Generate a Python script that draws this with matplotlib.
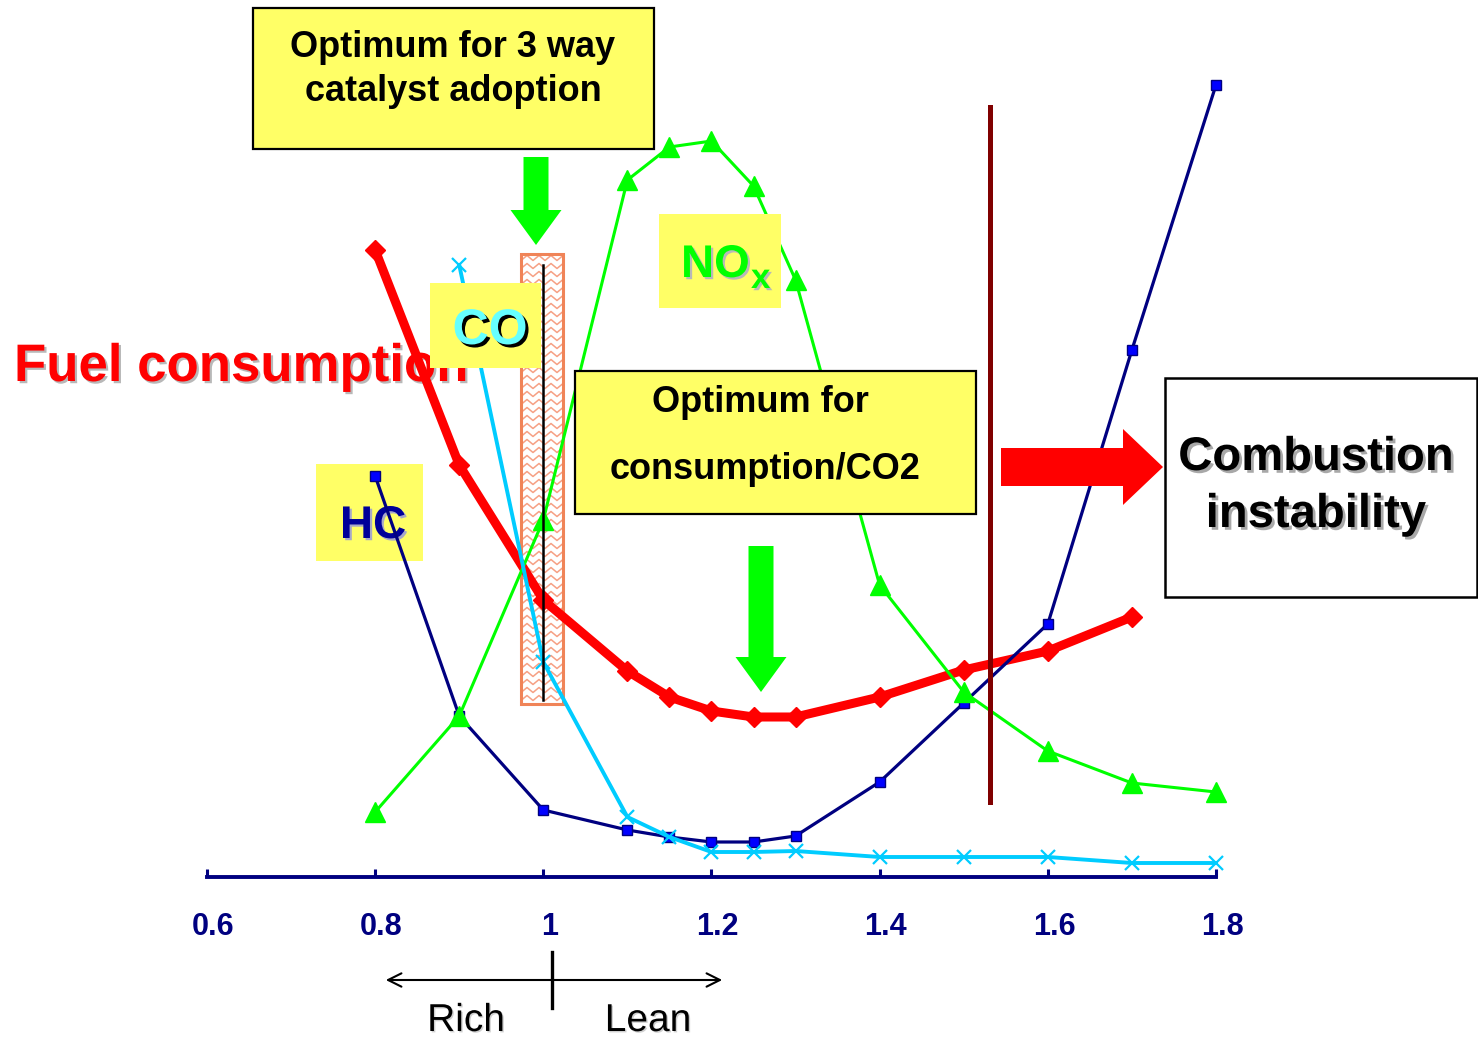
import numpy as np
import matplotlib.pyplot as plt
from matplotlib.patches import Rectangle, FancyArrow
from matplotlib import patheffects as pe
from matplotlib.transforms import ScaledTranslation

plt.rcParams['font.family'] = ['Liberation Sans', 'DejaVu Sans']

# excess air ratio (lambda) and relative levels of each quantity
lam = [0.8, 0.9, 1.0, 1.1, 1.15, 1.2, 1.25, 1.3, 1.4, 1.5, 1.6, 1.7, 1.8]
lam_fuel = [0.8, 0.9, 1.0, 1.1, 1.15, 1.2, 1.25, 1.3, 1.4, 1.5, 1.6, 1.7]
lam_co = [0.9, 1.0, 1.1, 1.15, 1.2, 1.25, 1.3, 1.4, 1.5, 1.6, 1.7, 1.8]
fuel = [6.27, 4.12, 2.77, 2.06, 1.80, 1.66, 1.60, 1.60, 1.80, 2.07, 2.26, 2.60]
hc = [4.01, 1.61, 0.67, 0.47, 0.40, 0.35, 0.35, 0.41, 0.95, 1.74, 2.53, 5.27, 7.92]
co = [6.12, 2.15, 0.60, 0.40, 0.25, 0.25, 0.26, 0.20, 0.20, 0.20, 0.14, 0.14]
nox = [0.65, 1.61, 3.57, 6.97, 7.30, 7.36, 6.91, 5.97, 2.92, 1.85, 1.26, 0.94, 0.85]
tick_vals = [0.6, 0.8, 1.0, 1.2, 1.4, 1.6, 1.8]
tick_labels = ['0.6', '0.8', '1', '1.2', '1.4', '1.6', '1.8']

W, H = 1478, 1042
fig = plt.figure(figsize=(W / 100, H / 100), dpi=100)
ax = fig.add_axes([0, 0, 1, 1])
X0, XS = 207, 840.8   # pixel column of lambda=0.6, pixels per lambda unit
Y0, YS = 877, 100.0   # pixel row of the baseline, pixels per unit
ax.set_xlim(0.6 - X0 / XS, 0.6 + (W - X0) / XS)
ax.set_ylim((Y0 - H) / YS, Y0 / YS)


def dx(px):
    return 0.6 + (np.asarray(px, dtype=float) - X0) / XS


def dy(py):
    return (Y0 - np.asarray(py, dtype=float)) / YS


def shadow(col='#b8b8b8', off=1.6):
    return [pe.SimplePatchShadow(offset=(off, -off), shadow_rgbFace=col, alpha=1.0), pe.Normal()]


def box(x0, y0, x1, y1, face, edge='none', lw=1.6, z=7):
    r = Rectangle((dx(x0), dy(y1)), dx(x1) - dx(x0), dy(y0) - dy(y1),
                  facecolor=face, edgecolor=edge, lw=lw, zorder=z)
    ax.add_patch(r)
    return r


# bottom axis only
for s in ['left', 'right', 'top']:
    ax.spines[s].set_visible(False)
ax.spines['bottom'].set_position(('data', 0))
ax.spines['bottom'].set_bounds(0.6, 1.8)
ax.spines['bottom'].set_color('#000080')
ax.spines['bottom'].set_linewidth(2.8)
ax.set_yticks([])
ax.set_xticks(tick_vals)
ax.set_xticklabels(tick_labels, fontsize=22, fontweight='bold', color='#000080')
ax.tick_params(axis='x', direction='in', length=6, width=2.2, color='#000080', pad=25.5)
for lbl in ax.get_xticklabels():
    lbl.set_transform(lbl.get_transform() + ScaledTranslation(4.5 / 72, 0, fig.dpi_scale_trans))

# lines
ax.plot(lam_fuel, fuel, color='#FF0000', lw=6.5, marker='D', ms=10, zorder=2)
ax.plot(lam, hc, color='#000080', lw=2.3, marker='s', ms=7, mfc='#0000FF', mec='#000080', mew=1, zorder=3)
ax.plot(lam, nox, color='#00FF00', lw=2.2, marker='^', ms=14, zorder=4)
ax.plot(lam_co, co, color='#00CCFF', lw=2.8, marker='x', ms=10, mew=1.6, zorder=5)

# text under the curves
ax.text(dx(14), dy(381), 'Fuel consumption', fontsize=38, fontweight='bold', color='#FF0000',
        ha='left', va='baseline', zorder=1, path_effects=shadow())
box(316, 464, 423, 561, '#FFFF66', z=1)
ax.text(dx(373), dy(538), 'HC', fontsize=33, fontweight='bold', color='#000099',
        ha='center', va='baseline', zorder=1.2, path_effects=shadow('#a8a8c8'))

# hatched band around stoichiometric
band = box(521, 254, 563, 704, 'white', z=1.5)
zx = np.arange(515, 572, 6.0)
for row in np.arange(258, 704, 8.0):
    zy = row + np.where(np.arange(len(zx)) % 2 == 0, -2.5, 2.5)
    ln, = ax.plot(dx(zx), dy(zy), color='#F6A084', lw=1.1, zorder=1.6)
    ln.set_clip_path(band)
box(521, 254, 563, 704, 'none', edge='#F08458', lw=2.2, z=1.7)
ax.plot([1.0, 1.0], [dy(265), dy(700)], color='black', lw=1.8, zorder=6)

# combustion limit
ax.plot([dx(990), dx(990)], [dy(107), dy(802)], color='#800000', lw=3.6, zorder=6)

# labels on top
box(253, 8, 654, 149, '#FFFF66', edge='black', lw=1.6)
ax.text(dx(453), dy(57), 'Optimum for 3 way', fontsize=26, fontweight='bold', ha='center', va='baseline', zorder=8)
ax.text(dx(453), dy(101), 'catalyst adoption', fontsize=26, fontweight='bold', ha='center', va='baseline', zorder=8)

box(659, 214, 781, 308, '#FFFF66')
ax.text(dx(681), dy(277), 'NO', fontsize=33, fontweight='bold', color='#00FF00',
        ha='left', va='baseline', zorder=8, path_effects=shadow())
ax.text(dx(751), dy(288), 'x', fontsize=25, fontweight='bold', color='#00FF00',
        ha='left', va='baseline', zorder=8, path_effects=shadow())

box(430, 283, 541, 368, '#FFFF66')
ax.text(dx(490), dy(344), 'CO', fontsize=36, fontweight='bold', color='#66FFFF',
        ha='center', va='baseline', zorder=8, path_effects=shadow('black', 2.2))

box(575, 371, 976, 514, '#FFFF66', edge='black', lw=1.6)
ax.text(dx(760), dy(412), 'Optimum for', fontsize=26, fontweight='bold', ha='center', va='baseline', zorder=8)
ax.text(dx(765), dy(479), 'consumption/CO2', fontsize=26, fontweight='bold', ha='center', va='baseline', zorder=8)

box(1165, 378, 1477, 597, 'white', edge='black', lw=1.8)
ax.text(dx(1316), dy(470), 'Combustion', fontsize=34, fontweight='bold', ha='center', va='baseline',
        zorder=8, path_effects=shadow('#a8a8a8', 2.0))
ax.text(dx(1316), dy(527), 'instability', fontsize=34, fontweight='bold', ha='center', va='baseline',
        zorder=8, path_effects=shadow('#a8a8a8', 2.0))

# arrows
for cx, top, tip in [(536, 157, 245), (761, 546, 692)]:
    ax.add_patch(FancyArrow(dx(cx), dy(top), 0, dy(tip) - dy(top), width=25 / XS, head_width=51 / XS,
                            head_length=35 / YS, length_includes_head=True, color='#00FF00', lw=0, zorder=7))
ax.add_patch(FancyArrow(dx(1001), dy(467), (1163 - 1001) / XS, 0, width=38 / YS, head_width=76 / YS,
                        head_length=40 / XS, length_includes_head=True, color='#FF0000', lw=0, zorder=7))

# rich / lean indicator
ax.annotate('', xy=(dx(383), dy(980)), xytext=(dx(725), dy(980)),
            arrowprops=dict(arrowstyle='<->', color='black', lw=1.5, mutation_scale=24), annotation_clip=False)
ax.plot([dx(552), dx(552)], [dy(952), dy(1008)], color='black', lw=2.4)
ax.text(dx(466), dy(1031), 'Rich', fontsize=28, ha='center', va='baseline', path_effects=shadow('#d0d0d0', 1.0))
ax.text(dx(648), dy(1031), 'Lean', fontsize=28, ha='center', va='baseline', path_effects=shadow('#d0d0d0', 1.0))

fig.savefig('out.png', dpi=100)
